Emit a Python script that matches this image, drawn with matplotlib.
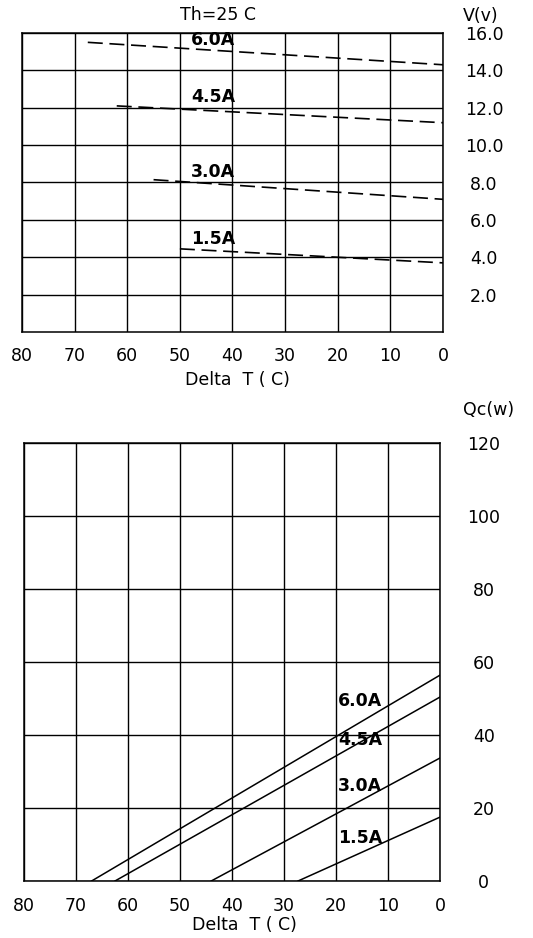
import matplotlib
matplotlib.use("Agg")
import matplotlib.pyplot as plt

# data
currents = ["1.5A", "3.0A", "4.5A", "6.0A"]

# voltage vs delta T (top panel): start point (left end) and value at dT = 0
v_dt_start = [50.0, 55.0, 62.0, 67.5]
v_start = [4.45, 8.15, 12.1, 15.5]
v_end = [3.7, 7.1, 11.2, 14.3]
v_label_y = [4.95, 8.55, 12.55, 15.6]

# cooling power vs delta T (bottom panel): dT where Qc = 0 and Qc at dT = 0
qc_dt_zero = [27.3, 44.0, 62.5, 67.0]
qc_at_zero = [17.5, 33.7, 50.4, 56.4]
qc_label_y = [11.8, 26.0, 38.6, 49.3]

x_ticks = [80, 70, 60, 50, 40, 30, 20, 10, 0]
v_ticks = [2, 4, 6, 8, 10, 12, 14, 16]
qc_ticks = [0, 20, 40, 60, 80, 100, 120]

W, H = 533, 938
FS = 12.5

fig = plt.figure(figsize=(W / 100, H / 100), dpi=100)
fig.patch.set_facecolor("white")


def style_axes(ax, yticks, ylabels, ylim, xpad, ypad):
    ax.set_xlim(80, 0)
    ax.set_ylim(*ylim)
    ax.set_xticks(x_ticks)
    ax.set_xticklabels([str(t) for t in x_ticks], fontsize=FS)
    ax.set_yticks(yticks)
    ax.set_yticklabels(ylabels, fontsize=FS)
    ax.yaxis.tick_right()
    ax.tick_params(axis="both", length=0)
    ax.tick_params(axis="x", pad=xpad)
    ax.tick_params(axis="y", pad=ypad)
    plt.setp(ax.get_yticklabels(), ha="center")
    ax.grid(True, color="black", linewidth=1.0)
    ax.set_axisbelow(True)
    for spine in ax.spines.values():
        spine.set_edgecolor("black")
        spine.set_linewidth(1.1)


# ---- top panel: V(v)
ax1 = fig.add_axes([22 / W, 1 - 332 / H, 421 / W, 299 / H])
style_axes(ax1, v_ticks, [f"{t:.1f}" for t in v_ticks], (0, 16), 10.8, 29.5)
for i, name in enumerate(currents):
    ax1.plot([v_dt_start[i], 0], [v_start[i], v_end[i]], color="black",
             linewidth=1.2, linestyle=(0, (9, 4)), zorder=3)
    ax1.text(43.7, v_label_y[i], name, fontsize=12.5, fontweight="bold",
             ha="center", va="center", zorder=4)

# ---- bottom panel: Qc(w)
ax2 = fig.add_axes([24 / W, 1 - 881 / H, 416 / W, 438 / H])
style_axes(ax2, qc_ticks, [str(t) for t in qc_ticks], (0, 120), 11.5, 31.5)
for i, name in enumerate(currents):
    ax2.plot([qc_dt_zero[i], 0], [0, qc_at_zero[i]], color="black",
             linewidth=1.1, zorder=3)
    ax2.text(15.4, qc_label_y[i], name, fontsize=12.5, fontweight="bold",
             ha="center", va="center", zorder=4)

# axis titles placed like the datasheet
fig.text(218 / W, 1 - 15 / H, "Th=25 C", fontsize=FS, ha="center", va="center")
fig.text(481 / W, 1 - 16 / H, "V(v)", fontsize=FS, ha="center", va="center")
fig.text(237 / W, 1 - 380 / H, "Delta  T ( C)", fontsize=FS, ha="center", va="center")
fig.text(489 / W, 1 - 410 / H, "Qc(w)", fontsize=FS, ha="center", va="center")
fig.text(244 / W, 1 - 925 / H, "Delta  T ( C)", fontsize=FS, ha="center", va="center")

plt.savefig("out.png", dpi=100)
plt.close()
